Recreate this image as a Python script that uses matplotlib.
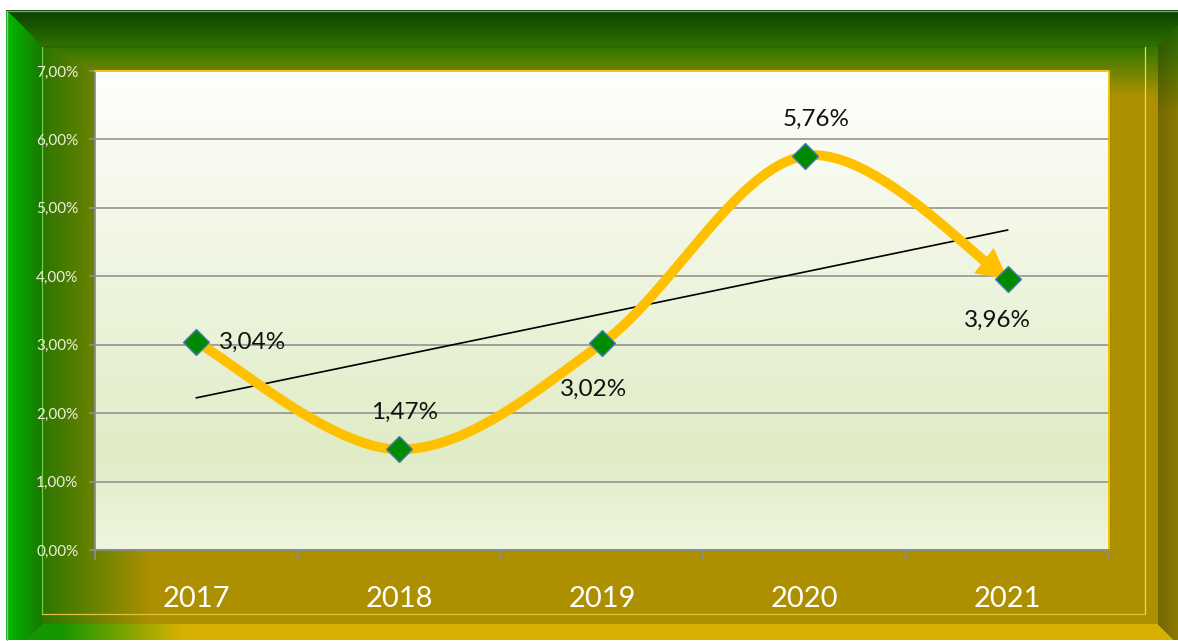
import numpy as np
import matplotlib
matplotlib.use("Agg")
import matplotlib.pyplot as plt
from matplotlib.patches import Polygon

# ---- data ----
years = ["2017", "2018", "2019", "2020", "2021"]
values = [3.04, 1.47, 3.02, 5.76, 3.96]
value_labels = ["3,04%", "1,47%", "3,02%", "5,76%", "3,96%"]
ytick_vals = [0, 1, 2, 3, 4, 5, 6, 7]
ytick_labels = ["0,00%", "1,00%", "2,00%", "3,00%", "4,00%", "5,00%", "6,00%", "7,00%"]

plt.rcParams['font.family'] = ['Lato', 'DejaVu Sans']

W, H = 1178, 641
fig = plt.figure(figsize=(W / 100, H / 100), dpi=100)

# ---- background frame image ----
yy, xx = np.mgrid[0:H, 0:W].astype(float) + 0.5
img = np.ones((H, W, 3)) * 255.0

def lerp(c1, c2, t):
    t = np.clip(t, 0, 1)[..., None]
    return np.array(c1) * (1 - t) + np.array(c2) * t

gold = (173, 144, 0)
green_in = (45, 118, 0)
tx = (xx - 42) / 110.0
ty = (yy - 47) / 50.0
t = np.minimum(tx, ty)
inner = lerp(green_in, gold, t)

ox0, oy0, ox1, oy1 = 7, 11, 1193, 660
bl, bt, br, bb = 35, 36, 35, 35
dl = (xx - ox0) / bl
dt = (yy - oy0) / bt
dr = (ox1 - xx) / br
db = (oy1 - yy) / bb
inside_outer = (xx >= ox0) & (yy >= oy0)
dmin = np.minimum(np.minimum(dl, dt), np.minimum(dr, db))
in_bevel = inside_outer & (dmin < 1)

img[inside_outer] = inner[inside_outer]

top_col = lerp((8, 66, 0), (48, 112, 0), dt)
left_col = lerp((0, 185, 0), (25, 120, 0), dl)
right_base = lerp((30, 110, 0), (150, 132, 0), (yy - 25) / 90.0)
shade = np.clip(0.78 + 0.25 * (1 - dr), 0.78, 1.0)[..., None]
right_col = right_base * shade
bot_col = lerp((20, 150, 0), (214, 176, 0), (xx - 60) / 120.0)

m_top = in_bevel & (dt == dmin)
m_left = in_bevel & (dl == dmin) & ~m_top
m_right = in_bevel & (dr == dmin) & ~m_top & ~m_left
m_bot = in_bevel & (db == dmin) & ~m_top & ~m_left & ~m_right
img[m_top] = top_col[m_top]
img[m_left] = left_col[m_left]
img[m_right] = right_col[m_right]
img[m_bot] = bot_col[m_bot]

# plot-area gradient
px0, px1, py0, py1 = 95, 1109, 71, 550
pa = (xx >= px0) & (xx <= px1) & (yy >= py0) & (yy <= py1)
ft = (yy - py0) / (py1 - py0)
c1 = lerp((255, 255, 253), (224, 236, 198), ft / 0.8)
c2 = lerp((224, 236, 198), (238, 246, 222), (ft - 0.8) / 0.2)
pcol = np.where((ft < 0.8)[..., None], c1, c2)
img[pa] = pcol[pa]

bg = fig.add_axes([0, 0, 1, 1])
bg.imshow(img.astype(np.uint8), aspect='auto', interpolation='nearest')
bg.set_xlim(0, W)
bg.set_ylim(H, 0)
bg.axis('off')
bg.plot([42, 1145], [47, 47], color='#2f6000', lw=1.2)
bg.plot([42, 42], [47, 614], color='#6fd040', lw=0.9)
bg.plot([1145, 1145], [47, 614], color='#e8d860', lw=0.9)
bg.plot([42, 1145], [614, 614], color='#e0c040', lw=0.9)
bg.plot([7, 1178], [11, 11], color='#909090', lw=1.0)
bg.plot([7, 7], [11, 641], color='#b0b0b0', lw=1.0)

# ---- main axes ----
ax = fig.add_axes([px0 / W, 1 - py1 / H, (px1 - px0) / W, (py1 - py0) / H])
ax.patch.set_visible(False)
x = np.arange(1, len(values) + 1)
ax.set_xlim(0.5, len(values) + 0.5)
ax.set_ylim(0, 7)

for v in ytick_vals[1:-1]:
    ax.axhline(v, color='#8c8c8c', lw=1.1, zorder=1)

for s in ['left', 'bottom']:
    ax.spines[s].set_color('#8c8c8c')
    ax.spines[s].set_linewidth(1.3)
for s in ['top', 'right']:
    ax.spines[s].set_color('#f5c000')
    ax.spines[s].set_linewidth(1.3)
    ax.spines[s].set_linestyle((0, (1, 1)))

ax.set_yticks(ytick_vals)
ax.set_yticklabels(ytick_labels)
ax.tick_params(axis='y', direction='out', length=4, width=1.3, color='#8c8c8c',
               labelcolor='#f0f0e0', labelsize=11, pad=8)
ax.set_xticks(x)
ax.set_xticklabels(years)
ax.tick_params(axis='x', which='major', length=0, labelcolor='white', labelsize=21, pad=26)
ax.set_xticks(np.arange(0.5, len(values) + 1), minor=True)
ax.tick_params(axis='x', which='minor', direction='out', length=7, width=1.3, color='#8c8c8c')

# trendline
coef = np.polyfit(x, values, 1)
ax.plot([x[0], x[-1]], np.polyval(coef, [x[0], x[-1]]), color='black', lw=1.2, zorder=3)

# smooth curve (Excel-like cardinal Bezier)
P = np.column_stack([x, values]).astype(float)
n = len(P)
pts = []
for i in range(n - 1):
    p0 = P[i]; p3 = P[i + 1]
    pm = P[i - 1] if i > 0 else P[i]
    pp = P[i + 2] if i + 2 < n else P[i + 1]
    c1p = p0 + (p3 - pm) / 6.0
    c2p = p3 - (pp - p0) / 6.0
    tt = np.linspace(0, 1, 80)[:, None] if i == 0 else np.linspace(0, 1, 80)[1:, None]
    seg = ((1 - tt) ** 3) * p0 + 3 * ((1 - tt) ** 2) * tt * c1p + 3 * (1 - tt) * tt ** 2 * c2p + tt ** 3 * p3
    pts.append(seg)
curve = np.vstack(pts)

disp = ax.transData.transform(curve)
tip = disp[-1]
head_len = 30.0
head_w = 32.0
d = np.hypot(disp[:, 0] - tip[0], disp[:, 1] - tip[1])
idx = np.where(d >= head_len)[0][-1]
base = disp[idx]
direction = (tip - base) / np.hypot(*(tip - base))
normal = np.array([-direction[1], direction[0]])
base_pt = tip - direction * head_len
curve_cut = np.vstack([curve[:idx + 1], ax.transData.inverted().transform(base_pt + direction * 3)])
ax.plot(curve_cut[:, 0], curve_cut[:, 1], color='#ffc000', lw=7, solid_capstyle='projecting', zorder=4)
tri = np.array([tip, base_pt + normal * head_w / 2, base_pt - normal * head_w / 2])
ax.add_patch(Polygon(ax.transData.inverted().transform(tri), closed=True, color='#ffc000', lw=0, zorder=4))

ax.plot(x, values, linestyle='none', marker='D', markersize=13, markerfacecolor='#008a00',
        markeredgecolor='#4a7ab0', markeredgewidth=1.0, zorder=5)

offsets = [(16, 0, 'left', 'center'), (4, 27, 'center', 'center'), (-6, -33, 'center', 'center'),
           (8, 26, 'center', 'center'), (-7, -30, 'center', 'center')]
for xi, v, lab, (dx, dy, ha, va) in zip(x, values, value_labels, offsets):
    ax.annotate(lab, (xi, v), xytext=(dx, dy), textcoords='offset points', ha=ha, va=va,
                fontsize=17.5, color='#111111', zorder=6)

fig.savefig("out.png", dpi=100)
